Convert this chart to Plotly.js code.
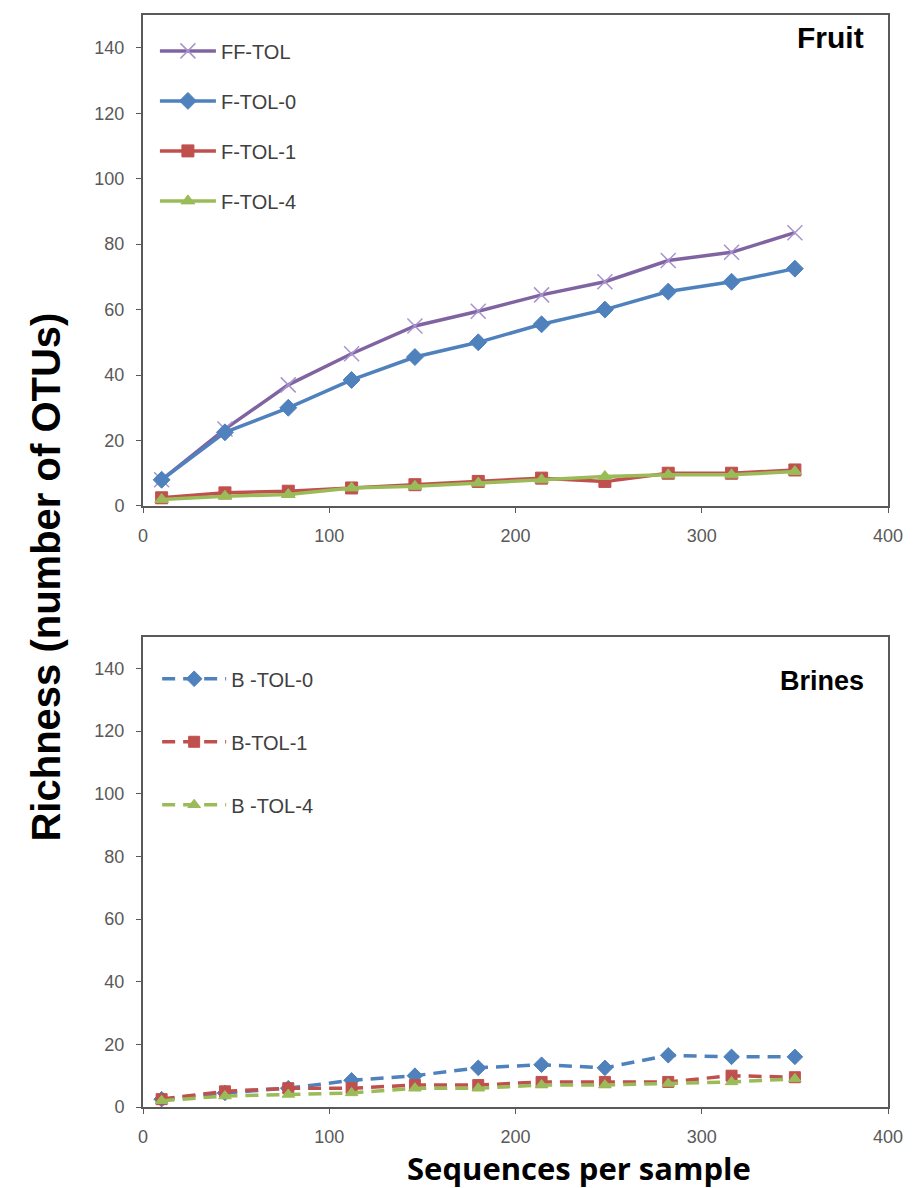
<!DOCTYPE html>
<html>
<head>
<meta charset="utf-8">
<script src="https://cdn.plot.ly/plotly-3.0.1.min.js"></script>
<style>html,body{margin:0;padding:0;background:#fff;}#chart{width:915px;height:1188px;}</style>
</head>
<body>
<div id="chart"></div>
<script>
// Sequences per sample (x positions of the rarefaction points)
const seqs = [10, 44, 78, 112, 146, 180, 214, 248, 282, 316, 350];

// Fruit samples
const ffTol  = [8, 23.5, 37, 46.5, 55, 59.5, 64.5, 68.5, 75, 77.5, 83.5];
const fTol0  = [8, 22.5, 30, 38.5, 45.5, 50, 55.5, 60, 65.5, 68.5, 72.5];
const fTol1  = [2.5, 4, 4.5, 5.5, 6.5, 7.5, 8.5, 7.5, 10, 10, 11];
const fTol4  = [2, 3, 3.5, 5.5, 6, 7, 8, 9, 9.5, 9.5, 10.5];

// Brine samples
const bTol0  = [2.5, 4.5, 6, 8.5, 10, 12.5, 13.5, 12.5, 16.5, 16, 16];
const bTol1  = [2.5, 5, 6, 6, 7, 7, 8, 8, 8, 10, 9.5];
const bTol4  = [2, 3.5, 4, 4.5, 6, 6, 7, 7, 7.5, 8, 9];

const yTicks = [0, 20, 40, 60, 80, 100, 120, 140];
const xTicks = [0, 100, 200, 300, 400];

const BLUE = '#4F81BD', RED = '#C0504D', GREEN = '#9BBB59', PURPLE = '#8064A2';

function tr(name, y, color, symbol, size, xa, ya, leg, dash, mcolor) {
  const isX = symbol.indexOf('x') === 0;
  return {
    x: seqs, y: y, name: name, type: 'scatter', mode: 'lines+markers',
    xaxis: xa, yaxis: ya, legend: leg, legendgroup: name,
    line: {color: color, width: 3.5, dash: dash || 'solid'},
    marker: {symbol: symbol, size: size, color: mcolor || color,
             line: {color: mcolor || color, width: isX ? 1.5 : 1}}
  };
}

const DASH = '13px,8px';
const data = [
  tr('FF-TOL', ffTol, PURPLE, 'x-thin', 15, 'x', 'y', 'legend', 'solid', '#A893CF'),
  tr('F-TOL-0', fTol0, BLUE, 'diamond', 13, 'x', 'y', 'legend'),
  tr('F-TOL-1', fTol1, RED, 'square', 12, 'x', 'y', 'legend'),
  tr('F-TOL-4', fTol4, GREEN, 'triangle-up', 12, 'x', 'y', 'legend'),
  tr('B -TOL-0', bTol0, BLUE, 'diamond', 12, 'x2', 'y2', 'legend2', DASH),
  tr('B-TOL-1', bTol1, RED, 'square', 11, 'x2', 'y2', 'legend2', DASH),
  tr('B -TOL-4', bTol4, GREEN, 'triangle-up', 11, 'x2', 'y2', 'legend2', DASH)
];

const tickFont = {family: 'Liberation Sans, Arial, sans-serif', size: 18, color: '#595959'};
const FRAME = '#595959';

function xax(anchor) {
  return {domain: [0, 1], range: [0, 400], anchor: anchor, tickvals: xTicks,
    showline: true, mirror: true, linecolor: FRAME, linewidth: 2,
    ticks: 'outside', ticklen: 5, tickcolor: FRAME, showgrid: false, zeroline: false,
    tickfont: tickFont, ticklabelstandoff: 7, fixedrange: true};
}
function yax(anchor, domain) {
  return {domain: domain, range: [0, 150], anchor: anchor, tickvals: yTicks,
    showline: true, mirror: true, linecolor: FRAME, linewidth: 2,
    ticks: 'outside', ticklen: 5, tickcolor: FRAME, showgrid: false, zeroline: false,
    tickfont: tickFont, ticklabelstandoff: 8, fixedrange: true};
}

const legFont = {family: 'Liberation Sans, Arial, sans-serif', size: 20, color: '#404040'};

const layout = {
  width: 915, height: 1188,
  margin: {l: 143, r: 27, t: 15, b: 81},
  paper_bgcolor: '#ffffff', plot_bgcolor: '#ffffff',
  showlegend: true,
  xaxis: xax('y'), yaxis: yax('x', [0.5504, 1]),
  xaxis2: xax('y2'), yaxis2: yax('x2', [0, 0.4304]),
  legend: {x: 0.016, y: 0.985, xanchor: 'left', yanchor: 'top', bgcolor: 'rgba(0,0,0,0)',
           font: legFont, traceorder: 'grouped', tracegroupgap: 21, itemwidth: 56},
  legend2: {x: 0.019, y: 0.41, xanchor: 'left', yanchor: 'top', bgcolor: 'rgba(0,0,0,0)',
            font: legFont, traceorder: 'grouped', tracegroupgap: 34, itemwidth: 64},
  annotations: [
    {text: '<b>Fruit</b>', xref: 'x', yref: 'y', x: 388, y: 143, xanchor: 'right', yanchor: 'middle',
     showarrow: false, font: {family: 'Liberation Sans, Arial, sans-serif', size: 30, color: '#000'}},
    {text: '<b>Brines</b>', xref: 'x2', yref: 'y2', x: 388, y: 136, xanchor: 'right', yanchor: 'middle',
     showarrow: false, font: {family: 'Liberation Sans, Arial, sans-serif', size: 27, color: '#000'}},
    {text: '<b>Richness (number of OTUs)</b>', xref: 'paper', yref: 'paper',
     x: -0.13, xanchor: 'center', y: 0.485, yanchor: 'middle', textangle: -90, showarrow: false,
     font: {family: 'Liberation Sans, Arial, sans-serif', size: 40, color: '#000'}},
    {text: '<b>Sequences per sample</b>', xref: 'paper', yref: 'paper',
     x: 0.585, xanchor: 'center', y: -0.056, yanchor: 'middle', showarrow: false,
     font: {family: 'Open Sans, sans-serif', size: 31, color: '#000'}}
  ]
};

Plotly.newPlot('chart', data, layout, {displayModeBar: false, staticPlot: true});
</script>
</body>
</html>
